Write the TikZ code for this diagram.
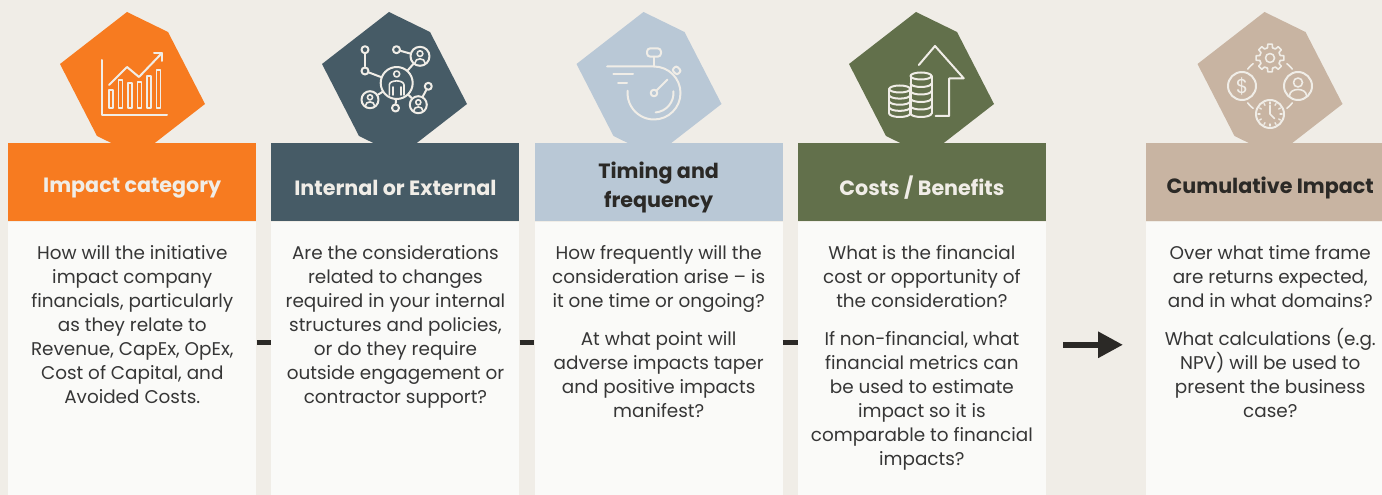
\documentclass[tikz,border=0pt]{standalone}
\usepackage{fontspec}
\setmainfont{Poppins}
\usetikzlibrary{positioning, calc, arrows.meta}

\definecolor{bgcream}{HTML}{F0EDE7}
\definecolor{cardwhite}{HTML}{FAFAF8}
\definecolor{inkdark}{HTML}{2B2926}
\definecolor{textgray}{HTML}{363636}
\definecolor{impactorange}{HTML}{F77B20}
\definecolor{slateblue}{HTML}{465B66}
\definecolor{mistblue}{HTML}{B9C8D6}
\definecolor{olivegreen}{HTML}{62704B}
\definecolor{sandtan}{HTML}{C8B4A2}

\begin{document}
\begin{tikzpicture}[x=0.75pt, y=-0.75pt,
  header/.style={anchor=north west, minimum width=186pt, minimum height=58.5pt, inner sep=0pt},
  title/.style={align=center, inner sep=0pt, font=\bfseries\fontsize{15.5}{21.5}\selectfont},
  card/.style={anchor=north, fill=cardwhite, minimum width=186pt, minimum height=205.5pt, inner sep=0pt},
  question/.style={anchor=north, align=center, inner sep=0pt, text=textgray, font=\fontsize{13.8}{18}\selectfont},
  icon/.style={draw=bgcream, line width=1.5pt, line cap=round, line join=round},
  dot/.style={icon, circle, inner sep=0pt, minimum size=5.25pt},
  ring/.style={icon, circle, inner sep=0pt},
  link/.style={draw=inkdark, line width=3.75pt},
]
\useasboundingbox (0,0) rectangle (1382,495);
\clip (0,0) rectangle (1382,495);
\fill[bgcream] (0,0) rectangle (1382,495);

% Tilted hexagon badges behind the headers
\foreach \cx/\col in {132.5/impactorange, 394.5/slateblue, 649/mistblue, 921.5/olivegreen, 1270/sandtan} {
    \fill[\col] (\cx-5.5,12) -- (\cx+35.5,32) -- (\cx+72.5,104) -- (\cx+5.5,156) -- (\cx-35.5,136) -- (\cx-72.5,64) -- cycle;
}

% Headers
\node[header, fill=impactorange] (h1) at (8,143) {};
\node[header, fill=slateblue, right=11pt of h1] (h2) {};
\node[header, fill=mistblue, right=11pt of h2] (h3) {};
\node[header, fill=olivegreen, right=11pt of h3] (h4) {};
\node[header, fill=sandtan] (h5) at (1146,143) {};
\node[title, text=bgcream] (t1) at ([yshift=-4pt]h1.center) {Impact category};
\node[title, text=bgcream] (t2) at ([yshift=-4pt]h2.center) {Internal or External};
\node[title, text=inkdark] (t3) at ([yshift=-4pt]h3.center) {Timing and\\frequency};
\node[title, text=bgcream] (t4) at ([yshift=-4pt]h4.center) {Costs / Benefits};
\node[title, text=inkdark] (t5) at ([yshift=-4pt]h5.center) {Cumulative Impact};

% Cards with the questions
\foreach \i in {1,...,5} {
    \node[card] (b\i) at (h\i.south) {};
}
\node[question] (q1) at ([yshift=-17.5pt]b1.north) {How will the initiative\\impact company\\financials, particularly\\as they relate to\\Revenue, CapEx, OpEx,\\Cost of Capital, and\\Avoided Costs.};
\node[question] (q2) at ([yshift=-17.5pt]b2.north) {Are the considerations\\related to changes\\required in your internal\\structures and policies,\\or do they require\\outside engagement or\\contractor support?};
\node[question] (q3) at ([yshift=-17.5pt]b3.north) {How frequently will the\\consideration arise – is\\it one time or ongoing?\\[10.5pt]At what point will\\adverse impacts taper\\and positive impacts\\manifest?};
\node[question] (q4) at ([yshift=-17.5pt]b4.north) {What is the financial\\cost or opportunity of\\the consideration?\\[10.5pt]If non-financial, what\\financial metrics can\\be used to estimate\\impact so it is\\comparable to financial\\impacts?};
\node[question] (q5) at ([yshift=-17.5pt]b5.north) {Over what time frame\\are returns expected,\\and in what domains?\\[10.5pt]What calculations (e.g.\\NPV) will be used to\\present the business\\case?};

% Links between the cards
\foreach \i/\j in {1/2, 2/3, 3/4} {
    \draw[link] ($(b\i.east)+(0,-16)$) -- ($(b\j.west)+(0,-16)$);
}
\draw[link, line width=4.5pt, -{Triangle[length=18.75pt, width=18.75pt]}, shorten <=12.75pt, shorten >=17.25pt] ($(b4.east)+(0,-14)$) -- ($(b5.west)+(0,-14)$);

% Icon 1: bar chart
\draw[icon] (102,60) -- (102,115) -- (167,115);
\foreach \bx/\by in {109/90, 118.5/80, 128/83, 137.5/82, 147/76, 156.5/70} {
    \draw[icon, line width=1.2pt] (\bx,108) rectangle (\bx+4,\by);
}
\draw[icon] (109,85) -- (127,67) -- (139,77) -- (162,53);
\draw[icon] (154,53) -- (162,53) -- (162,61);

% Icon 2: network of people
\node[ring, minimum size=24pt] (hub) at (396.7,83) {};
\node[ring, minimum size=14.25pt] (p1) at (420,56.3) {};
\node[ring, minimum size=12.75pt] (p2) at (370,99.7) {};
\node[ring, minimum size=12.75pt] (p3) at (418.3,104.7) {};
\node[dot] (n1) at (365,49.7) {};
\node[dot] (n2) at (365,71) {};
\node[dot] (n3) at (396.5,49.7) {};
\node[dot] (n4) at (395.5,108) {};
\node[dot] (n5) at (428.3,86.3) {};
\foreach \a/\b in {n1/n2, n2/hub, n3/p1, hub/p1, hub/p2, hub/n4, hub/p3, p3/n5} {
    \draw[icon] (\a) -- (\b);
}
\foreach \px/\py/\pr in {420/56.3/9.5, 370/99.7/8.5, 418.3/104.7/8.5} {
    \draw[icon, line width=1.2pt] (\px,\py-0.28*\pr) circle (0.3*\pr);
    \draw[icon, line width=1.2pt] (\px-0.55*\pr,\py+0.75*\pr) .. controls (\px-0.55*\pr,\py+0.1*\pr) and (\px+0.55*\pr,\py+0.1*\pr) .. (\px+0.55*\pr,\py+0.75*\pr);
}
\draw[icon, line width=1.2pt] (396.7,74) circle (3);
\draw[icon, line width=1.2pt] (389.3,95) -- (389.3,85) .. controls (389.3,79.5) and (404,79.5) .. (404,85) -- (404,95);
\draw[icon, line width=1.2pt] (392.7,87) -- (392.7,95) (400.7,87) -- (400.7,95);

% Icon 3: stopwatch
\begin{scope}[shift={(654,93)}, y=0.75pt]
    \draw[icon] (-47,26.5) -- (0,26.5) arc[start angle=90, end angle=-185, radius=26.5];
    \draw[icon] (-40.7,19) -- (-21,19);
    \draw[icon] (-36,10.3) -- (-27,10.3);
    \draw[icon] (5:19.5) arc[start angle=5, end angle=-85, radius=19.5];
    \draw[icon] (0,0) circle (3.3);
    \draw[icon] (45:3.3) -- (45:19);
    \draw[icon] (0,26.5) -- (0,36.3);
    \draw[icon, rounded corners=2.5pt] (-7,36.3) rectangle (7,44.7);
    \draw[icon, rotate=45, rounded corners=1.5pt] (29,-3.5) rectangle (35,3.5);
\end{scope}

% Icon 4: coins and rising arrow
\draw[icon] (918.8,65) -- (935,46) -- (963.7,78.3) -- (949.2,78.3) -- (949.2,116) -- (935.7,116);
\foreach \cx/\top in {899.7/89, 921/76} {
    \draw[icon] (\cx,\top) ellipse [x radius=10.5, y radius=3.5];
    \draw[icon] (\cx-10.5,\top) -- (\cx-10.5,113.5) (\cx+10.5,\top) -- (\cx+10.5,113.5);
    \pgfmathsetmacro{\layers}{int(round((113.5-\top)/7))}
    \foreach \k in {1,...,\layers} {
        \pgfmathsetmacro{\ly}{\top+\k*(113.5-\top)/\layers}
        \draw[icon] (\cx-10.5,\ly) arc[start angle=180, end angle=0, x radius=10.5, y radius=3.5];
    }
}

% Icon 5: cycle of money, people, time and process
\begin{scope}[shift={(1270,86)}, y=0.75pt]
    \foreach \a in {0,90,180,270} {
        \draw[icon, line width=1.2pt] (\a+37:28) arc[start angle=\a+37, end angle=\a+53, radius=28];
    }
    \node[ring, minimum size=21pt] (money) at (-28,0) {};
    \node[ring, minimum size=21pt] (people) at (28,0) {};
    \node[ring, minimum size=21pt] (clock) at (0,-28) {};
    \node[text=bgcream, inner sep=0pt, font=\fontsize{15}{15}\selectfont] (dollar) at (money) {\$};
    \draw[icon, line width=1.2pt, shift={(0,28)}] (-14:10.5) \foreach \g in {0,45,...,315} { -- (\g-14:10.5) -- (\g-9:14) -- (\g+9:14) -- (\g+14:10.5) } -- cycle;
    \draw[icon, line width=1.2pt] (0,28) circle (4.5);
    \draw[icon, line width=1.2pt] (28,3.5) circle (4.5);
    \draw[icon, line width=1.2pt] (19.5,-9.5) .. controls (20,-1.5) and (36,-1.5) .. (36.5,-9.5);
    \foreach \t in {0,30,...,330} {
        \draw[icon, line width=1pt] ($(0,-28)+(\t:10)$) -- ($(0,-28)+(\t:12)$);
    }
    \draw[icon, line width=1.2pt] (0,-19.5) -- (0,-28) -- (4.5,-32.5);
\end{scope}
\end{tikzpicture}
\end{document}
